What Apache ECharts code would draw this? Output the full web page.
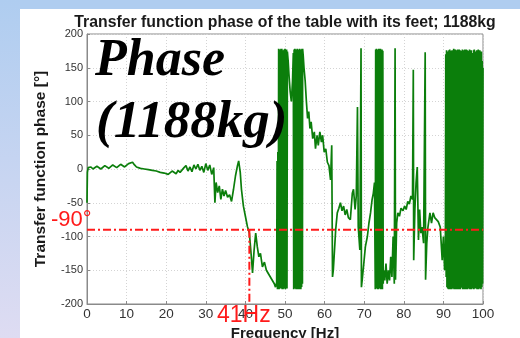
<!DOCTYPE html>
<html><head><meta charset="utf-8">
<script src="https://cdn.jsdelivr.net/npm/echarts@6/dist/echarts.min.js"></script>
<style>html,body{margin:0;padding:0;background:#fff}#c{width:520px;height:338px}</style>
</head><body><div id="c"></div>
<script>
// ---- data ----
const titleText = 'Transfer function phase of the table with its feet; 1188kg';
const xTicks = [0,10,20,30,40,50,60,70,80,90,100];
const yTicks = [-200,-150,-100,-50,0,50,100,150,200];
const refPhase = -90;   // deg
const refFreq = 41;     // Hz
// [frequency Hz, phase deg]
const phaseLow = [
 [0,-50],[0.1,-5],[0.3,2],[1,3],[1.5,0],[2,1],[2.5,4],[3,3],[3.5,0],[4,2],[4.5,5],[5,4],[5.5,1],[6,3],[6.5,6],[7,5],
 [7.5,2],[8,4],[8.5,7],[9,6],[9.5,3],[10,5],[10.5,8],[11,7],[11.5,10],[12,6],[12.5,3],
 [13,5],[13.5,1],[14,3],[14.5,0],[15,2],[15.5,-1],[16,1],[16.5,-2],[17,0],[17.5,-3],[18,-2],[18.5,-5],[19,-3],
 [19.5,-6],[20,-5],[20.5,-8],[21,-6],[21.5,-3],[22,-4],[22.5,-7],[23,-2],[23.5,-5],[24,-4],[24.5,2],[25,5],
 [25.5,-3],[26,3],[26.5,-4],[27,6],[27.5,0],[28,7],[28.5,-2],[29,4],[29.5,-5],[30,8],[30.5,-2],[31,6],[31.5,-8],[32,2],
 [32.3,-50],[32.6,-20],[33,-35],[33.4,-25],[33.8,-45],[34.2,-30],[34.6,-40],[35,-32],[35.5,-42],[36,-38],[36.5,-48],
 [37,-30],[37.5,-10],[38,5],[38.3,12],[38.7,-5],[39,-30],[39.5,-55],[40,-70],[40.5,-85],[41,-95],[41.5,-130],
 [41.8,-154],[42.2,-120],[42.6,-95],[43,-115],[43.4,-130],[43.8,-125],[44.3,-145],[44.8,-138],[45.3,-150],
 [45.8,-148],[46.3,-160],[46.8,-158],[47.3,-170],[47.6,-175],[47.9,-168]
];
const phaseBand1 = [
 [48.0,12],[48.1,-178],[48.2,25],[48.3,-176],[48.4,178],[48.5,-178],[48.6,176],[48.7,-177],[48.8,177],[48.9,-176],
 [49.0,178],[49.1,-177],[49.2,178],[49.3,-178],[49.4,175],[49.5,-178],[49.6,176],[49.7,-176],[49.8,177],[49.9,-177],
 [50.0,178],[50.1,-178],[50.2,176],[50.3,-176],[50.4,177],[50.5,-177],[50.6,174],
 [50.8,160],[51.0,140],[51.3,115],[51.6,100],[51.9,130],[52.1,172],
 [52.2,-178],[52.3,177],[52.4,-176],[52.5,178],[52.6,-177],[52.7,176],[52.8,-178],[52.9,177],[53.0,-177],[53.1,178],
 [53.2,-178],[53.3,176],[53.4,-176],[53.5,177],[53.6,-178],[53.7,178],[53.8,-177],[53.9,176],[54.0,-178],[54.1,177],
 [54.2,-175],[54.3,178],[54.4,-170],[54.45,178]
];
const phaseMid = [
 [54.6,168],[54.8,150],[55.1,130],[55.4,100],[55.7,75],[56,85],[56.3,60],[56.6,70],[57,45],[57.4,55],[57.7,30],
 [58.1,50],[58.4,35],[58.8,55],[59.2,40],[59.5,50],[59.9,25],[60.3,30],[60.7,10],[61.1,5],[61.5,-16],[61.8,35],
 [62.0,-160],[62.2,-150],[62.5,-120],[62.8,-90],[63.2,-65],[63.6,-58],[64,-50],[64.4,-62],[64.8,-55],[65.2,-68],
 [65.6,-60],[66,-72],[66.5,-75],[67,-36],[67.3,-30],[67.7,-60],[68,-40],[68.3,92],[68.5,-86],[68.9,-120],[69.2,179],
 [69.3,-175],[69.5,-164],[69.9,-140],[70.3,-115],[70.8,-100],[71.2,-80],[71.6,-65],[72,-45],[72.3,-36],[72.6,-20],
 [72.8,-178],[72.9,177],[73.0,-176],[73.1,178],[73.2,-177],[73.3,176],[73.4,-178],[73.5,177],[73.6,-178],[73.7,178],
 [73.8,-176],[73.9,177],[74.0,-177],[74.1,178],[74.2,-178],[74.3,176],[74.4,-177],[74.5,177],[74.6,-178],[74.7,175],
 [74.8,-170],
 [74.9,-150],[75.2,-165],[75.5,-140],[75.8,-170],[76.1,-150],[76.4,-165],[76.7,-130],[77,-160],[77.3,-100],
 [77.6,-170],[77.8,179],[77.9,-164],[78.2,-80],[78.5,-65],[78.9,-70],[79.3,-58],[79.8,-62],[80.2,-55],[80.6,-60],
 [81,-48],[81.4,-52],[81.8,-40],[82.2,-45],[82.4,147],[82.5,-135],[82.8,-60],[83.1,-20],[83.4,3],[83.7,-105],
 [84.0,-60],[84.3,-95],[84.6,-86],[85.0,-110],[85.4,173],[85.5,-164],[85.8,-110],[86.1,-86],[86.6,-65],[87,-80],
 [87.4,-65],[87.8,-72],[88.2,-70],[88.7,-78],[89.2,-86],[89.7,-135],[90.0,-100],[90.3,-150]
];
const phaseHigh = [
 [90.5,-120],[90.6,170],[90.7,-160],[90.8,176],[90.9,-175],[91.0,174],[91.1,-177],[91.2,172],[91.3,-178],[91.4,176],
 [91.5,-176],[91.6,177],[91.7,-178],[91.8,175],[91.9,-177],[92.0,170],[92.1,-178],[92.2,176],[92.3,-176],[92.4,175],
 [92.5,-177],[92.6,178],[92.7,-178],[92.8,176],[92.9,-176],[93.0,177],[93.1,-178],[93.2,174],[93.3,-177],[93.4,176],
 [93.5,-178],[93.6,177],[93.7,-176],[93.8,172],[93.9,-178],[94.0,177],[94.1,-177],[94.2,176],[94.3,-178],[94.4,175],
 [94.5,-150],[94.6,160],[94.7,-176],[94.8,177],[94.9,-178],[95.0,176],[95.1,-177],[95.2,174],[95.3,-178],[95.4,177],
 [95.5,-176],[95.6,175],[95.7,-178],[95.8,177],[95.9,-177],[96.0,176],[96.1,-178],[96.2,170],[96.3,-176],[96.4,175],
 [96.5,-177],[96.6,177],[96.7,-178],[96.8,172],[96.9,-176],[97.0,176],[97.1,-178],[97.2,168],[97.3,-130],[97.4,172],
 [97.5,-177],[97.6,176],[97.7,-178],[97.8,177],[97.9,-176],[98.0,174],[98.1,-177],[98.2,150],[98.3,-176],[98.4,176],
 [98.5,-178],[98.6,175],[98.7,-177],[98.8,177],[98.9,-178],[99.0,172],[99.1,-176],[99.2,176],[99.3,-177],[99.4,168],
 [99.5,-178],[99.6,174],[99.7,-175],[99.8,160],[99.9,-170],[100,150]
];

const curve = phaseLow.concat(phaseBand1, phaseMid, phaseHigh);

const chart = echarts.init(document.getElementById('c'), null, {renderer:'canvas'});
const sans = '"Liberation Sans", Arial, sans-serif';
const serif = '"Liberation Serif", "Times New Roman", serif';
const red = '#ff1a1a';

chart.setOption({
  animation: false,
  backgroundColor: '#ffffff',
  grid: {left: 87, right: 37, top: 34, bottom: 34, containLabel: false, outerBoundsMode: 'none',
         show: true, borderColor: '#8a8a8a', borderWidth: 1},
  title: {text: titleText, left: 280, textAlign: 'center', top: 10,
          textStyle: {fontFamily: sans, fontWeight: 'bold', fontSize: 15.8, color: '#1a1a1a'}},
  xAxis: {type: 'value', min: xTicks[0], max: xTicks[xTicks.length-1], interval: 10,
    name: 'Frequency [Hz]', nameLocation: 'middle', nameGap: 20,
    nameTextStyle: {fontFamily: sans, fontWeight: 'bold', fontSize: 15, color: '#1a1a1a'},
    axisLine: {show: true, onZero: false, lineStyle: {color: '#8a8a8a'}},
    axisTick: {show: true, inside: true, length: 3, lineStyle: {color: '#8a8a8a'}},
    axisLabel: {fontFamily: sans, fontSize: 13.5, color: '#333', margin: 3},
    splitLine: {show: true, lineStyle: {color: '#d4d4d4', type: [1,2]}}},
  yAxis: {type: 'value', min: yTicks[0], max: yTicks[yTicks.length-1], interval: 50,
    name: 'Transfer function phase [°]', nameLocation: 'middle', nameGap: 38, nameRotate: 90,
    nameTextStyle: {fontFamily: sans, fontWeight: 'bold', fontSize: 15.5, color: '#1a1a1a'},
    axisLine: {show: true, onZero: false, lineStyle: {color: '#8a8a8a'}},
    axisTick: {show: true, inside: true, length: 3, lineStyle: {color: '#8a8a8a'}},
    axisLabel: {fontFamily: sans, fontSize: 11, color: '#333', margin: 4},
    splitLine: {show: true, lineStyle: {color: '#d4d4d4', type: [1,2]}}},
  series: [
    {type: 'line', data: curve, showSymbol: false, symbol: 'none',
     lineStyle: {color: '#0b7e0b', width: 1.7}, z: 3},
    {type: 'line', data: [[xTicks[0], refPhase],[xTicks[xTicks.length-1], refPhase]], symbol: 'none',
     lineStyle: {color: red, width: 2, type: [8,3,2,3]}, z: 4},
    {type: 'line', data: [[refFreq, refPhase],[refFreq, yTicks[0]]], symbol: 'none',
     lineStyle: {color: red, width: 2, type: [8,3,2,3]}, z: 4}
  ],
  graphic: [
    {type: 'rect', shape: {x: 0, y: 0, width: 520, height: 9}, style: {fill: '#afcdf0'}, z: -10, silent: true},
    {type: 'rect', shape: {x: 0, y: 0, width: 20, height: 338}, z: -10, silent: true,
     style: {fill: new echarts.graphic.LinearGradient(0,0,0,1,[{offset:0,color:'#afcdf0'},{offset:1,color:'#dedcf2'}])}},
    {type: 'text', left: 95, top: 36, z: 10,
     style: {text: 'Phase', font: 'italic bold 52px ' + serif, fill: '#000'}},
    {type: 'text', left: 96, top: 97, z: 10,
     style: {text: '(1188kg)', font: 'italic bold 53px ' + serif, fill: '#000'}},
    {type: 'text', left: 51, top: 209, z: 10,
     style: {text: '-90°', font: '22px ' + sans, fill: red}},
    {type: 'text', left: 217, top: 304, z: 10,
     style: {text: '41Hz', font: '23px ' + sans, fill: red}}
  ]
});
</script></body></html>
